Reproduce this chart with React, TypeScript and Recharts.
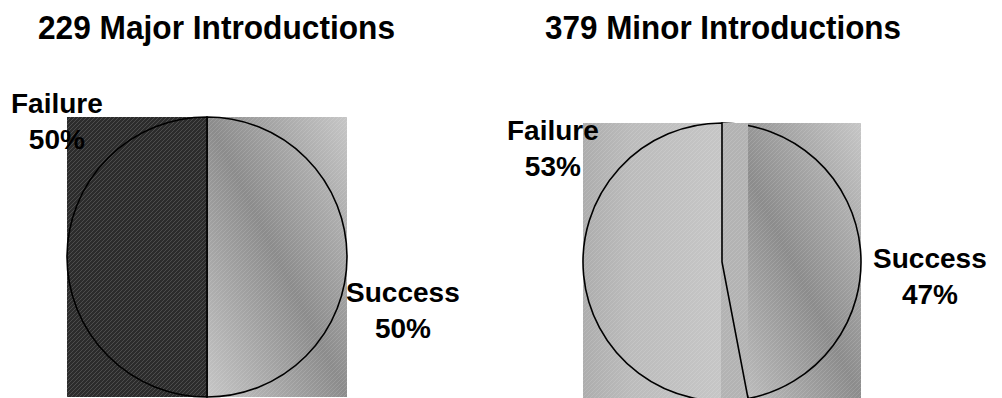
import React from 'react';
import { PieChart, Pie, Sector } from 'recharts';

// ---------- data ----------
const categories = ['Success', 'Failure'];
const majorValues = [50, 50];
const minorValues = [47, 53];
const chartTitles = ['229 Major Introductions', '379 Minor Introductions'];

const majorData = categories.map((name, i) => ({ name, value: majorValues[i] }));
const minorData = categories.map((name, i) => ({ name, value: minorValues[i] }));

// ---------- style config ----------
const FONT = '"Liberation Sans", Arial, Helvetica, sans-serif';
const W = 1002;
const H = 398;
const RAD = Math.PI / 180;

const majorFills = ['url(#gradSuccess)', 'url(#darkHatch)'];
const minorFills = ['url(#gradSuccess)', 'url(#gradLight)'];
const majorOverlay = [true, false];
const minorOverlay = [true, true];
const majorLabelPos = [
  { angle: -12.9, offset: 61 },
  { angle: 136.2, offset: 68 },
];
const minorLabelPos = [
  { angle: -1.7, offset: 69 },
  { angle: 144.2, offset: 69.5 },
];

function sectorBox(cx: number, cy: number, r: number, start: number, end: number) {
  const lo = Math.min(start, end);
  const hi = Math.max(start, end);
  const angles = [lo, hi];
  for (let k = Math.ceil(lo / 90) * 90; k <= hi; k += 90) angles.push(k);
  const xs = [cx];
  const ys = [cy];
  angles.forEach((a) => {
    xs.push(cx + r * Math.cos(-a * RAD));
    ys.push(cy + r * Math.sin(-a * RAD));
  });
  const x0 = Math.min(...xs);
  const x1 = Math.max(...xs);
  const y0 = Math.min(...ys);
  const y1 = Math.max(...ys);
  return { x: x0, y: y0, w: x1 - x0, h: y1 - y0 };
}

const makeTextureLabel = (fills: string[], overlay: boolean[]) => (props: any) => {
  const { cx, cy, outerRadius, startAngle, endAngle, index } = props;
  const b = sectorBox(cx, cy, outerRadius, startAngle, endAngle);
  return (
    <g key={`tex-${index}`}>
      <rect x={b.x} y={b.y} width={b.w} height={b.h} fill={fills[index]} stroke="none" />
      {overlay[index] && (
        <rect x={b.x} y={b.y} width={b.w} height={b.h} fill="url(#hatchOverlay)" stroke="none" />
      )}
      <Sector
        cx={cx}
        cy={cy}
        innerRadius={0}
        outerRadius={outerRadius}
        startAngle={startAngle}
        endAngle={endAngle}
        fill="none"
        stroke="#000"
        strokeWidth={1.6}
      />
    </g>
  );
};

const makeTextLabel = (pos: { angle: number; offset: number }[]) => (props: any) => {
  const { cx, cy, outerRadius, index, payload, value } = props;
  const p = pos[index];
  const d = outerRadius + p.offset;
  const x = cx + d * Math.cos(-p.angle * RAD);
  const y = cy + d * Math.sin(-p.angle * RAD);
  const name = payload && payload.name ? payload.name : props.name;
  return (
    <g key={`lbl-${index}`}>
      <text x={x} y={y} textAnchor="middle" fill="#000" fontFamily={FONT} fontWeight="bold" fontSize={28} stroke="none">
        {name}
      </text>
      <text x={x} y={y + 36} textAnchor="middle" fill="#000" fontFamily={FONT} fontWeight="bold" fontSize={28} stroke="none">
        {`${value}%`}
      </text>
    </g>
  );
};

function Defs() {
  return (
    <svg width={0} height={0} style={{ position: 'absolute' }}>
      <defs>
        <pattern id="darkHatch" patternUnits="userSpaceOnUse" width={4} height={4}>
          <rect width={4} height={4} fill="#2c2c2c" />
          <path d="M-1,1 L1,-1 M0,4 L4,0 M3,5 L5,3" stroke="#4d4d4d" strokeWidth={1} />
        </pattern>
        <pattern id="hatchOverlay" patternUnits="userSpaceOnUse" width={4} height={4}>
          <path d="M-1,1 L1,-1 M0,4 L4,0 M3,5 L5,3" stroke="rgba(255,255,255,0.13)" strokeWidth={1} />
        </pattern>
        <linearGradient id="gradSuccess" x1="0" y1="1" x2="1" y2="0">
          <stop offset="0" stopColor="#c6c6c6" />
          <stop offset="0.5" stopColor="#8c8c8c" />
          <stop offset="1" stopColor="#c6c6c6" />
        </linearGradient>
        <linearGradient id="gradLight" x1="0" y1="0" x2="1" y2="0">
          <stop offset="0" stopColor="#adadad" />
          <stop offset="0.3" stopColor="#bcbcbc" />
          <stop offset="0.838" stopColor="#c6c6c6" />
          <stop offset="0.838" stopColor="#b3b3b3" />
          <stop offset="1" stopColor="#b3b3b3" />
        </linearGradient>
      </defs>
    </svg>
  );
}

export default function App() {
  const majorStart = 90 - (360 * majorValues[0]) / (majorValues[0] + majorValues[1]);
  const minorStart = 90 - (360 * minorValues[0]) / (minorValues[0] + minorValues[1]);
  return (
    <div style={{ position: 'absolute', left: 0, top: 0, width: W, height: H, background: '#fff', overflow: 'hidden' }}>
      <Defs />
      <PieChart width={W} height={H} margin={{ top: 0, right: 0, bottom: 0, left: 0 }}>
        {/* textured slices + outlines */}
        <Pie
          data={majorData}
          dataKey="value"
          nameKey="name"
          cx={207}
          cy={257}
          outerRadius={140}
          startAngle={majorStart}
          endAngle={majorStart + 360}
          fill="none"
          stroke="none"
          isAnimationActive={false}
          labelLine={false}
          label={makeTextureLabel(majorFills, majorOverlay)}
        />
        <Pie
          data={minorData}
          dataKey="value"
          nameKey="name"
          cx={722}
          cy={262}
          outerRadius={139}
          startAngle={minorStart}
          endAngle={minorStart + 360}
          fill="none"
          stroke="none"
          isAnimationActive={false}
          labelLine={false}
          label={makeTextureLabel(minorFills, minorOverlay)}
        />
        {/* labels */}
        <Pie
          data={majorData}
          dataKey="value"
          nameKey="name"
          cx={207}
          cy={257}
          outerRadius={140}
          startAngle={majorStart}
          endAngle={majorStart + 360}
          fill="none"
          stroke="none"
          isAnimationActive={false}
          labelLine={false}
          label={makeTextLabel(majorLabelPos)}
        />
        <Pie
          data={minorData}
          dataKey="value"
          nameKey="name"
          cx={722}
          cy={262}
          outerRadius={139}
          startAngle={minorStart}
          endAngle={minorStart + 360}
          fill="none"
          stroke="none"
          isAnimationActive={false}
          labelLine={false}
          label={makeTextLabel(minorLabelPos)}
        />
      </PieChart>
      <svg width={W} height={H} style={{ position: 'absolute', left: 0, top: 0, pointerEvents: 'none' }}>
        <text x={216.5} y={39} textAnchor="middle" fontFamily={FONT} fontWeight="bold" fontSize={34} textLength={357} lengthAdjust="spacingAndGlyphs" fill="#000">
          {chartTitles[0]}
        </text>
        <text x={723} y={39} textAnchor="middle" fontFamily={FONT} fontWeight="bold" fontSize={34} textLength={356} lengthAdjust="spacingAndGlyphs" fill="#000">
          {chartTitles[1]}
        </text>
      </svg>
    </div>
  );
}
